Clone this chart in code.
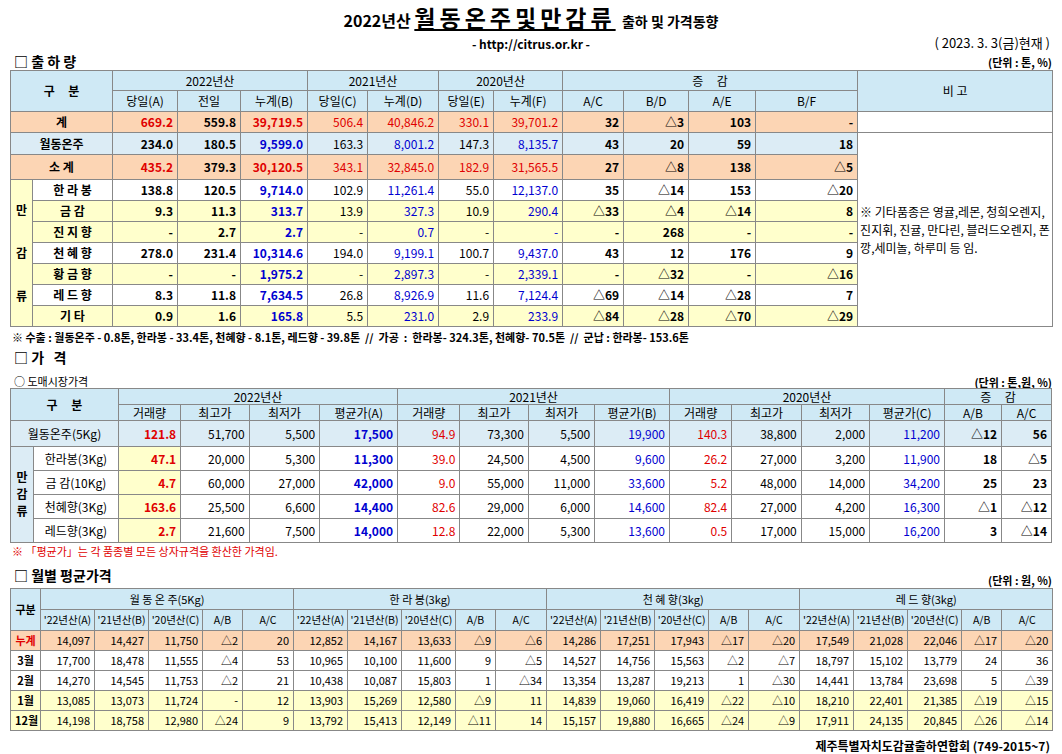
<!DOCTYPE html><html><head><meta charset="utf-8">
<script src="https://cdn.jsdelivr.net/npm/chart.js@4"></script>
<style>
body{margin:0;width:1062px;height:754px;background:#fff;font-family:"Noto Sans CJK KR","Noto Sans",sans-serif;font-size:12px;position:relative;overflow:hidden}
.a{position:absolute}
table{border-collapse:collapse;table-layout:fixed;position:absolute;left:10px;width:1042px}
td{border:1px solid #888;padding:0 4px;text-align:right;white-space:nowrap;overflow:hidden;line-height:1}
td.c{text-align:center}
.h{background:#cfe9f5}
.pk{background:#fcd5b4}.lb{background:#dcecf5}.ye{background:#ffffcc}
.r{color:#e00000}.b{color:#0000d0}.bd{font-weight:bold}
.sec{font-size:14px;font-weight:bold;line-height:1}
</style></head><body>
<div class="a" style="left:0;width:1062px;top:2px;text-align:center;font-weight:bold;line-height:30px"><span style="font-size:16px">2022년산 </span><span style="font-size:23px;text-decoration:underline;letter-spacing:4px">월동온주및만감류</span><span style="font-size:14px">  &nbsp;출하 및 가격동향</span></div>
<div class="a" style="left:0;width:1062px;top:38px;text-align:center;font-weight:bold;font-size:12px;line-height:1">- http://citrus.or.kr -</div>
<div class="a" style="right:12px;top:36px;font-size:13px;line-height:1">( 2023. 3. 3(금)현재 )</div>
<div class="a sec" style="left:14px;top:54px">□ 출 하 량</div><div class="a bd" style="right:10px;top:57px;font-size:11px;line-height:1">(단위 : 톤, %)</div>
<table id="t1" style="top:70px"></table>
<div class="a bd" style="left:12px;top:329px;font-size:11px">※ 수출 : 월동온주 - 0.8톤, 한라봉 - 33.4톤, 천혜향 - 8.1톤, 레드향 - 39.8톤 &nbsp;// &nbsp;가공 &nbsp;: &nbsp;한라봉- 324.3톤, 천혜향- 70.5톤 &nbsp;// &nbsp;군납 : 한라봉- 153.6톤</div>
<div class="a sec" style="left:14px;top:350px">□ 가 &nbsp; 격</div>
<div class="a" style="left:14px;top:373px;font-size:11px">○ 도매시장가격</div><div class="a bd" style="right:10px;top:374px;font-size:11px">(단위 : 톤,원, %)</div>
<table id="t2" style="top:388px"></table>
<div class="a r" style="left:12px;top:543px;font-size:11px">※ 「평균가」는 각 품종별 모든 상자규격을 환산한 가격임.</div>
<div class="a sec" style="left:14px;top:568px">□ 월별 평균가격</div><div class="a bd" style="right:10px;top:572px;font-size:11px">(단위 : 원, %)</div>
<table id="t3" style="top:588px;font-size:11px"></table>
<div class="a bd" style="right:12px;top:737px;font-size:12px">제주특별자치도감귤출하연합회 (749-2015~7)</div>
<script>
// ---- 출하량 ----
const shipItems=["계","월동온주","소 계","한 라 봉","금    감","진 지 향","천 혜 향","황 금 향","레 드 향","기    타"];
const ship2022=[["669.2","559.8","39,719.5"],["234.0","180.5","9,599.0"],["435.2","379.3","30,120.5"],["138.8","120.5","9,714.0"],["9.3","11.3","313.7"],["-","2.7","2.7"],["278.0","231.4","10,314.6"],["-","-","1,975.2"],["8.3","11.8","7,634.5"],["0.9","1.6","165.8"]];
const ship2021=[["506.4","40,846.2"],["163.3","8,001.2"],["343.1","32,845.0"],["102.9","11,261.4"],["13.9","327.3"],["-","0.7"],["194.0","9,199.1"],["-","2,897.3"],["26.8","8,926.9"],["5.5","231.0"]];
const ship2020=[["330.1","39,701.2"],["147.3","8,135.7"],["182.9","31,565.5"],["55.0","12,137.0"],["10.9","290.4"],["-","-"],["100.7","9,437.0"],["-","2,339.1"],["11.6","7,124.4"],["2.9","233.9"]];
const shipChg=[["32","△3","103","-"],["43","20","59","18"],["27","△8","138","△5"],["35","△14","153","△20"],["△33","△4","△14","8"],["-","268","-","-"],["43","12","176","9"],["-","△32","-","△16"],["△69","△14","△28","7"],["△84","△28","△70","△29"]];
const shipNote="※ 기타품종은 영귤,레몬, 청희오렌지, 진지휘, 진귤, 만다린, 블러드오렌지, 폰깡,세미놀, 하루미 등 임.";
// ---- 가격 ----
const priceItems=["월동온주(5Kg)","한라봉(3Kg)","금 감(10Kg)","천혜향(3Kg)","레드향(3Kg)"];
const price2022=[["121.8","51,700","5,500","17,500"],["47.1","20,000","5,300","11,300"],["4.7","60,000","27,000","42,000"],["163.6","25,500","6,600","14,400"],["2.7","21,600","7,500","14,000"]];
const price2021=[["94.9","73,300","5,500","19,900"],["39.0","24,500","4,500","9,600"],["9.0","55,000","11,000","33,600"],["82.6","29,000","6,000","14,600"],["12.8","22,000","5,300","13,600"]];
const price2020=[["140.3","38,800","2,000","11,200"],["26.2","27,000","3,200","11,900"],["5.2","48,000","14,000","34,200"],["82.4","27,000","4,200","16,300"],["0.5","17,000","15,000","16,200"]];
const priceChg=[["△12","56"],["18","△5"],["25","23"],["△1","△12"],["3","△14"]];
// ---- 월별 ----
const months=["누계","3월","2월","1월","12월"];
const groups=["월 동 온 주(5Kg)","한 라 봉(3kg)","천 혜 향(3kg)","레 드 향(3kg)"];
const monthly=[
[["14,097","14,427","11,750","△2","20"],["12,852","14,167","13,633","△9","△6"],["14,286","17,251","17,943","△17","△20"],["17,549","21,028","22,046","△17","△20"]],
[["17,700","18,478","11,555","△4","53"],["10,965","10,100","11,600","9","△5"],["14,527","14,756","15,563","△2","△7"],["18,797","15,102","13,779","24","36"]],
[["14,270","14,545","11,753","△2","21"],["10,438","10,087","15,803","1","△34"],["13,354","13,287","19,213","1","△30"],["14,441","13,784","23,698","5","△39"]],
[["13,085","13,073","11,724","-","12"],["13,903","15,269","12,580","△9","11"],["14,839","19,060","16,419","△22","△10"],["18,210","22,401","21,385","△19","△15"]],
[["14,198","18,758","12,980","△24","9"],["13,792","15,413","12,149","△11","14"],["15,157","19,880","16,665","△24","△9"],["17,911","24,135","20,845","△26","△14"]]];

const td=(t,c,a)=>`<td class="${c||''}"${a||''}>${t}</td>`;
const cg=w=>'<colgroup>'+w.map(x=>`<col style="width:${x}px">`).join('')+'</colgroup>';
// table 1
let h=cg([22,80,65,63,67,60,71,55,69,61,65,67,102,195]);
h+=`<tr class="h" style="height:20px">${td('구 &nbsp; &nbsp; 분','c bd',' colspan=2 rowspan=2')}${td('2022년산','c',' colspan=3')}${td('2021년산','c',' colspan=2')}${td('2020년산','c',' colspan=2')}${td('증 &nbsp; &nbsp; 감','c',' colspan=4')}${td('비 고','c',' rowspan=2')}</tr>`;
h+=`<tr class="h" style="height:21px">`+["당일(A)","전일","누계(B)","당일(C)","누계(D)","당일(E)","누계(F)","A/C","B/D","A/E","B/F"].map(x=>td(x,'c')).join('')+'</tr>';
const rc1=['pk','lb','pk','','ye','ye','','ye','','ye'];
const rh1=[21,22,25,21,21,21,21,21,21,21];
for(let i=0;i<10;i++){
 const top=i<3, red=(i==0||i==2);
 let r=`<tr class="${rc1[i]}" style="height:${rh1[i]}px">`;
 if(top) r+=td(shipItems[i],'c bd',' colspan=2');
 else { if(i==3) r+=td('만<br><br><br>감<br><br><br>류','c bd',' rowspan=7 style="background:#ffffcc;line-height:1.2"'); r+=td(shipItems[i],'c bd'); }
 const s=ship2022[i];
 r+=td(s[0],'bd '+(red?'r':''))+td(s[1],'bd')+td(s[2],'bd '+(i==1?'b':red?'r':'b'));
 r+=td(ship2021[i][0],red?'r':'')+td(ship2021[i][1],red?'r':'b');
 r+=td(ship2020[i][0],red?'r':'')+td(ship2020[i][1],red?'r':'b');
 r+=shipChg[i].map(x=>td(x,'bd')).join('');
 if(i==1) r+=td(shipNote,'',' rowspan=9 style="background:#fff;white-space:normal;text-align:left;line-height:1.5;vertical-align:middle;padding:0 2px"');
 if(i==0) r+=td('','',' style="background:#fff"');
 h+=r+'</tr>';
}
document.getElementById('t1').innerHTML=h;
// table 2
h=cg([22,82,60,66,68,75,60,66,64,72,60,67,66,72,55,48]);
h+=`<tr class="h" style="height:16px">${td('구 &nbsp; &nbsp; 분','c bd',' colspan=2 rowspan=2')}${td('2022년산','c',' colspan=4')}${td('2021년산','c',' colspan=4')}${td('2020년산','c',' colspan=4')}${td('증 &nbsp; &nbsp; 감','c',' colspan=2')}</tr>`;
h+=`<tr class="h" style="height:16px">`+["거래량","최고가","최저가","평균가(A)","거래량","최고가","최저가","평균가(B)","거래량","최고가","최저가","평균가(C)","A/B","A/C"].map(x=>td(x,'c')).join('')+'</tr>';
const rh2=[26,24,24,24,24];
for(let i=0;i<5;i++){
 let r=`<tr class="${i==0?'lb':''}" style="height:${rh2[i]}px">`;
 if(i==0) r+=td(priceItems[i],'c',' colspan=2');
 else { if(i==1) r+=td('만<br>감<br>류','c bd',' rowspan=4 style="background:#dcecf5;line-height:1.4;padding:0"'); r+=td(priceItems[i],'c'); }
 const bg=i==0?'':' style="background:#ffffcc"';
 r+=td(price2022[i][0],'bd r',bg)+td(price2022[i][1])+td(price2022[i][2])+td(price2022[i][3],'bd b');
 r+=td(price2021[i][0],'r')+td(price2021[i][1])+td(price2021[i][2])+td(price2021[i][3],'b');
 r+=td(price2020[i][0],'r')+td(price2020[i][1])+td(price2020[i][2])+td(price2020[i][3],'b');
 r+=priceChg[i].map(x=>td(x,'bd')).join('');
 h+=r+'</tr>';
}
document.getElementById('t2').innerHTML=h;
// table 3
const ws=[30];for(let g=0;g<4;g++)ws.push(54,54,54,40,51);
h=cg(ws);
h+=`<tr class="h" style="height:21px">${td('구분','c bd',' rowspan=2')}`+groups.map(g=>td(g,'c',' colspan=5')).join('')+'</tr>';
h+=`<tr class="h" style="height:21px">`+groups.map(()=>["'22년산(A)","'21년산(B)","'20년산(C)","A/B","A/C"].map(x=>td(x,'c',' style="padding:0;font-size:10.5px"')).join('')).join('')+'</tr>';
const rc3=['pk','','','ye','ye'];
for(let i=0;i<5;i++){
 let r=`<tr class="${rc3[i]}" style="height:20px">`+td(months[i],'c bd'+(i==0?' r':''));
 monthly[i].forEach(g=>g.forEach(x=>r+=td(x,'')));
 h+=r+'</tr>';
}
document.getElementById('t3').innerHTML=h;
</script></body></html>
